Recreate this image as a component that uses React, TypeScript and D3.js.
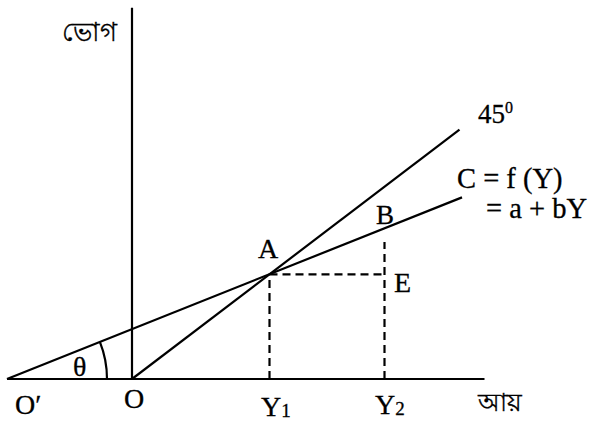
import React from "react";
import * as d3 from "d3";

// Economic units (income Y on x, consumption C on y)
const oPrime = -50; // O' (where C line meets income axis)
const axisEndY = 141; // income axis end
const axisTopC = 195; // consumption axis top
const y1 = 55; // Y1 (break-even income, point A)
const y2 = 101; // Y2
const y2DashTop = 72;

const line45: [number, number][] = [
  [0, 0],
  [131, 131],
];
const consLine: [number, number][] = [
  [oPrime, 0],
  [132, 95.4],
];

const W = 590;
const H = 424;

const serif = "Liberation Serif";

function T(props: { x: number; y: number; size?: number; children: React.ReactNode }) {
  const s = props.size ?? 28;
  return (
    <text
      x={props.x}
      y={props.y}
      fontSize={s}
      fill="#000"
      stroke="#000"
      strokeWidth={0.3}
      style={{ fontFamily: serif }}
    >
      {props.children}
    </text>
  );
}

export default function App() {
  const x = d3.scaleLinear().domain([oPrime, 0]).range([7, 132]);
  const y = d3.scaleLinear().domain([0, 100]).range([379, 379 - 190.4]);
  const ln = d3
    .line<[number, number]>()
    .x((d) => x(d[0]))
    .y((d) => y(d[1]));

  const cx = x(oPrime);
  const cy = y(0);
  const ang = Math.atan2(y(0) - y(consLine[1][1]), x(consLine[1][0]) - x(consLine[0][0]));
  const r = 100;
  const arcPath = `M ${cx + r} ${cy} A ${r} ${r} 0 0 0 ${cx + r * Math.cos(ang)} ${cy - r * Math.sin(ang)}`;

  const cAtY1 = y1; // on the 45 degree line
  const sw = 2.2;
  const dash = "8,5";

  return (
    <svg width={W} height={H} style={{ position: "absolute", left: 0, top: 0, background: "#fff" }}>
      {/* axes */}
      <line x1={x(oPrime)} y1={y(0)} x2={x(axisEndY)} y2={y(0)} stroke="#000" strokeWidth={sw} />
      <line x1={x(0)} y1={y(0)} x2={x(0)} y2={y(axisTopC)} stroke="#000" strokeWidth={sw} />
      {/* 45 degree line */}
      <path d={ln(line45) || ""} stroke="#000" strokeWidth={sw} fill="none" />
      {/* consumption function */}
      <path d={ln(consLine) || ""} stroke="#000" strokeWidth={sw} fill="none" />
      {/* dashed guides */}
      <line x1={x(y1)} y1={y(0)} x2={x(y1)} y2={y(cAtY1)} stroke="#000" strokeWidth={sw} strokeDasharray={dash} />
      <line x1={x(y1)} y1={y(cAtY1)} x2={x(y2)} y2={y(cAtY1)} stroke="#000" strokeWidth={sw} strokeDasharray={dash} />
      <line x1={x(y2)} y1={y(0)} x2={x(y2)} y2={y(y2DashTop)} stroke="#000" strokeWidth={sw} strokeDasharray={dash} />
      {/* angle arc */}
      <path d={arcPath} stroke="#000" strokeWidth={sw} fill="none" />

      <T x={478} y={122.5} size={27}>
        45
        <tspan dy={-10} fontSize={16}>0</tspan>
      </T>
      <T x={457} y={188} size={28.5}>C = f (Y)</T>
      <T x={486} y={218} size={28.5}>= a + bY</T>
      <T x={376} y={224} size={27}>B</T>
      <T x={258} y={258}>A</T>
      <T x={394} y={292}>E</T>
      <T x={73} y={376}>θ</T>
      <T x={15} y={414}>O′</T>
      <T x={124} y={408}>O</T>
      <T x={261} y={416}>
        Y<tspan dy={1} fontSize={19}>1</tspan>
      </T>
      <T x={375} y={414}>
        Y<tspan dy={1} fontSize={19}>2</tspan>
      </T>
      <T x={62} y={41} size={26}>ভোগ</T>
      <T x={478} y={411} size={25}>আয়</T>
    </svg>
  );
}
